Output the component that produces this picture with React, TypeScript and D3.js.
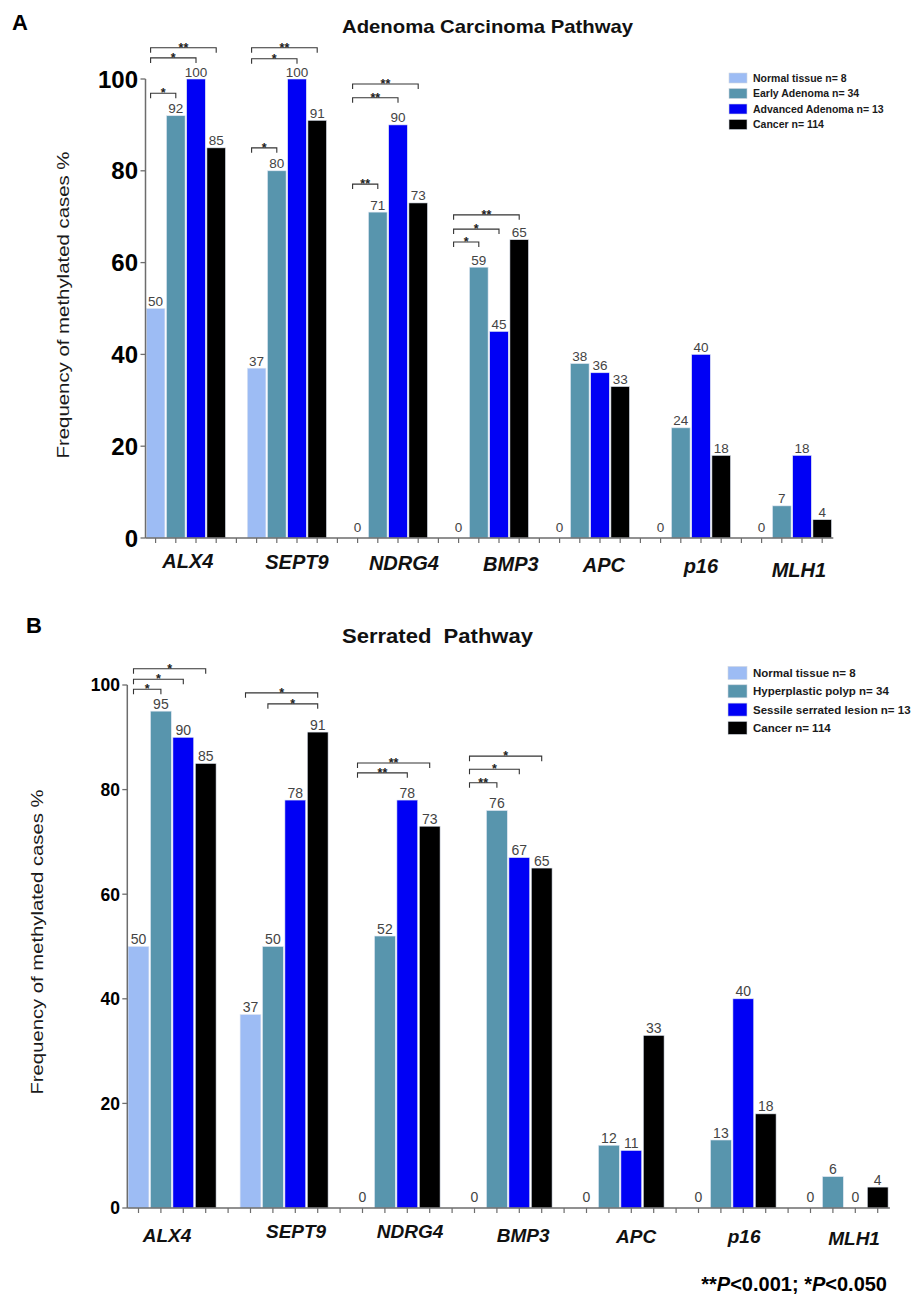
import React from "react";
import * as d3 from "d3";

const categories = ["ALX4", "SEPT9", "NDRG4", "BMP3", "APC", "p16", "MLH1"];
const yTicks = [0, 20, 40, 60, 80, 100];

const seriesNamesA = ["Normal tissue n= 8", "Early Adenoma n= 34", "Advanced Adenoma n= 13", "Cancer n= 114"];
const normalA = [50, 37, 0, 0, 0, 0, 0];
const earlyAdenomaA = [92, 80, 71, 59, 38, 24, 7];
const advancedAdenomaA = [100, 100, 90, 45, 36, 40, 18];
const cancerA = [85, 91, 73, 65, 33, 18, 4];

const seriesNamesB = ["Normal tissue n= 8", "Hyperplastic polyp n= 34", "Sessile serrated lesion n= 13", "Cancer n= 114"];
const normalB = [50, 37, 0, 0, 0, 0, 0];
const hyperplasticB = [95, 50, 52, 76, 12, 13, 6];
const sessileB = [90, 78, 78, 67, 11, 40, 0];
const cancerB = [85, 91, 73, 65, 33, 18, 4];

// significance brackets: [category index, from series, to series, label, height (in % units)]
const bracketsA: [number, number, number, string, number][] = [
  [0, 0, 1, "*", 96.9], [0, 0, 2, "*", 104.6], [0, 0, 3, "**", 106.8],
  [1, 0, 1, "*", 85.0], [1, 0, 2, "*", 104.4], [1, 0, 3, "**", 106.8],
  [2, 0, 1, "**", 77.1], [2, 0, 2, "**", 95.9], [2, 0, 3, "**", 98.9],
  [3, 0, 1, "*", 64.5], [3, 0, 2, "*", 67.3], [3, 0, 3, "**", 70.4],
];
const bracketsB: [number, number, number, string, number][] = [
  [0, 0, 1, "*", 99.2], [0, 0, 2, "*", 101.1], [0, 0, 3, "*", 103.1],
  [1, 1, 3, "*", 96.4], [1, 0, 3, "*", 98.5],
  [2, 0, 2, "**", 83.2], [2, 0, 3, "**", 85.1],
  [3, 0, 1, "**", 81.3], [3, 0, 2, "*", 83.9], [3, 0, 3, "*", 86.4],
];

const colors = ["#9dbcf4", "#5895ad", "#0000f5", "#000000"];
const FONT = "'Liberation Sans', Arial, Helvetica, sans-serif";

type PanelCfg = {
  x0: number; slotW: number; yBase: number; yTop: number;
  series: number[][]; names: string[]; brackets: [number, number, number, string, number][];
  tickFont: number; tickLabelX: number; catFont: number; catNudge: [number, number][];
  valueFont: number;
  legendX: number; legendY: number; legendStep: number; swW: number; swH: number; legendFont: number;
};

function Panel({ c }: { c: PanelCfg }) {
  const nSlots = categories.length * 5 - 1;
  const x = d3.scaleBand<number>().domain(d3.range(nSlots)).range([c.x0, c.x0 + nSlots * c.slotW]).padding(0);
  const y = d3.scaleLinear().domain([0, 100]).range([c.yBase, c.yTop]);
  const bw = x.bandwidth();
  const cx = (ci: number, si: number) => (x(ci * 5 + si) as number) + bw / 2;
  const axisStroke = "#6d6d6d";
  return (
    <g>
      {categories.map((cat, ci) =>
        c.series.map((vals, si) => {
          const v = vals[ci];
          const bx = x(ci * 5 + si) as number;
          return (
            <g key={cat + si}>
              {v > 0 && (
                <rect x={bx + 0.8} y={y(v)} width={bw - 1.6} height={c.yBase - y(v)} fill={colors[si]}
                  stroke="#dfe6f2" strokeWidth={0.6} />
              )}
              <text x={bx + bw / 2} y={v > 0 ? y(v) - 2.5 : c.yBase - 6} textAnchor="middle"
                fontSize={c.valueFont} fill="#444" fontFamily={FONT}>{v}</text>
            </g>
          );
        })
      )}
      <line x1={c.x0} x2={c.x0} y1={y(100)} y2={c.yBase} stroke={axisStroke} strokeWidth={1.5} />
      {yTicks.map((t) => (
        <g key={t}>
          <line x1={c.x0 - 5} x2={c.x0} y1={y(t)} y2={y(t)} stroke={axisStroke} strokeWidth={1.3} />
          <text x={c.tickLabelX} y={y(t)} dy="0.36em" textAnchor="end" fontSize={c.tickFont}
            fontWeight="bold" fontFamily={FONT} fill="#000">{t}</text>
        </g>
      ))}
      <line x1={c.x0} x2={c.x0 + nSlots * c.slotW + 1} y1={c.yBase} y2={c.yBase} stroke={axisStroke} strokeWidth={1.5} />
      {d3.range(nSlots).map((i) => (
        <line key={i} x1={(x(i) as number) + bw / 2} x2={(x(i) as number) + bw / 2} y1={c.yBase} y2={c.yBase + 5}
          stroke={axisStroke} strokeWidth={1.2} />
      ))}
      {categories.map((cat, ci) => (
        <text key={cat} x={(cx(ci, 0) + cx(ci, 3)) / 2 + c.catNudge[ci][0]} y={c.catNudge[ci][1]}
          textAnchor="middle" fontSize={c.catFont} fontWeight="bold" fontStyle="italic" fontFamily={FONT}
          fill="#111">{cat}</text>
      ))}
      {c.brackets.map(([ci, a, b, lab, h], i) => {
        const xa = cx(ci, a) - 5;
        const xb = cx(ci, b);
        const yy = y(h);
        return (
          <g key={i}>
            <path d={`M${xa},${yy + 5}V${yy}H${xb}V${yy + 5}`} fill="none" stroke="#333" strokeWidth={1.1} />
            <text x={(xa + xb) / 2} y={yy + 4} textAnchor="middle" fontSize={12.5} fontWeight="bold"
              fontFamily={FONT} fill="#222">{lab}</text>
          </g>
        );
      })}
      {c.names.map((n, i) => (
        <g key={n}>
          <rect x={c.legendX} y={c.legendY + i * c.legendStep - c.swH / 2} width={c.swW} height={c.swH}
            fill={colors[i]} stroke="#cfd6e0" strokeWidth={0.6} />
          <text x={c.legendX + c.swW + 6} y={c.legendY + i * c.legendStep} dy="0.35em"
            fontSize={c.legendFont} fontWeight="bold" fontFamily={FONT} fill="#1a1a1a">{n}</text>
        </g>
      ))}
    </g>
  );
}

export default function App() {
  const cfgA: PanelCfg = {
    x0: 145.5, slotW: 20.2, yBase: 538, yTop: 79,
    series: [normalA, earlyAdenomaA, advancedAdenomaA, cancerA], names: seriesNamesA, brackets: bracketsA,
    tickFont: 24, tickLabelX: 138, catFont: 20,
    catNudge: [[2, 568], [10, 569], [16, 570], [22, 571], [14, 572], [10, 573], [7, 577]],
    valueFont: 13.5,
    legendX: 729, legendY: 78, legendStep: 15.5, swW: 18, swH: 10, legendFont: 10.5,
  };
  const cfgB: PanelCfg = {
    x0: 127.3, slotW: 22.4, yBase: 1208, yTop: 685,
    series: [normalB, hyperplasticB, sessileB, cancerB], names: seriesNamesB, brackets: bracketsB,
    tickFont: 17.5, tickLabelX: 120, catFont: 19,
    catNudge: [[-5, 1242], [12, 1238], [14, 1238], [15, 1242], [16, 1243], [12, 1243], [10, 1245]],
    valueFont: 14,
    legendX: 728, legendY: 673, legendStep: 18.3, swW: 19, swH: 13, legendFont: 11.5,
  };
  return (
    <svg width={920} height={1295} style={{ position: "absolute", left: 0, top: 0, background: "#fff" }}
      fontFamily={FONT}>
      <rect width={920} height={1295} fill="#fff" />
      <text x={12} y={30} fontSize={22} fontWeight="bold" fill="#000">A</text>
      <text x={342} y={33} fontSize={19} fontWeight="bold" fill="#111" textLength={291}
        lengthAdjust="spacingAndGlyphs">Adenoma Carcinoma Pathway</text>
      <text transform="translate(69,305) rotate(-90)" textAnchor="middle" fontSize={17} fill="#1a1a1a"
        textLength={307} lengthAdjust="spacingAndGlyphs">Frequency of methylated cases %</text>
      <Panel c={cfgA} />

      <text x={26} y={633} fontSize={22} fontWeight="bold" fill="#000">B</text>
      <text x={342} y={643} fontSize={20} fontWeight="bold" fill="#111" textLength={191}
        lengthAdjust="spacingAndGlyphs" style={{ whiteSpace: "pre" }}>Serrated  Pathway</text>
      <text transform="translate(43,942) rotate(-90)" textAnchor="middle" fontSize={16} fill="#1a1a1a"
        textLength={305} lengthAdjust="spacingAndGlyphs">Frequency of methylated cases %</text>
      <Panel c={cfgB} />

      <text x={887} y={1291} textAnchor="end" fontSize={20} fontWeight="bold" fill="#000">
        **<tspan fontStyle="italic">P</tspan>{"<0.001; *"}<tspan fontStyle="italic">P</tspan>{"<0.050"}
      </text>
    </svg>
  );
}
